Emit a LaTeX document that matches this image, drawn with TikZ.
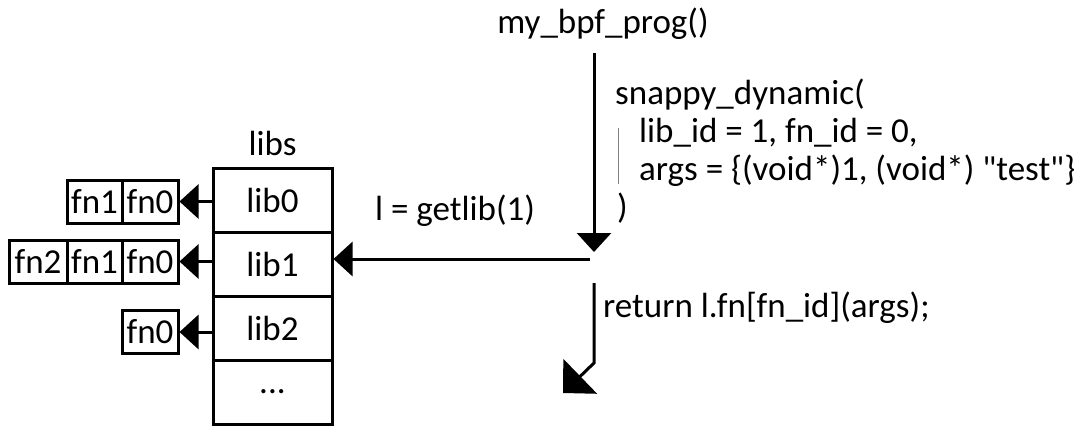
\documentclass[tikz,border=0pt]{standalone}
\usepackage{fontspec}
\setmainfont{Carlito}[Ligatures=TeXOff]
\usetikzlibrary{arrows.meta}
\begin{document}
\begin{tikzpicture}[x=1pt,y=-1pt,
  every node/.style={font=\fontsize{35}{42}\selectfont, inner sep=0pt},
  cell/.style={draw, line width=3pt, minimum width=119pt, minimum height=64pt},
  fnbox/.style={draw, line width=3pt, minimum width=56pt, minimum height=43pt},
  arr/.style={line width=3pt, -{Triangle[length=19pt,width=34pt]}},
  bigarr/.style={line width=3pt, -{Triangle[length=24pt,width=48pt]}},
  txt/.style={anchor=base west}
]
\useasboundingbox (0,0) rectangle (1088,426);
% libs column
\node[anchor=base] (libs) at (272.5,155) {libs};
\node[cell] (lib0) at (272.5,200) {lib0};
\node[cell] (lib1) at (272.5,264) {lib1};
\node[cell] (lib2) at (272.5,328) {lib2};
\node[cell] (lib3) at (272.5,392) {...};
% fn boxes
\node[fnbox] (f00) at (150,201.5) {fn0};
\node[fnbox, minimum width=55pt] (f01) at (94.5,201.5) {fn1};
\node[fnbox] (f10) at (150,261.5) {fn0};
\node[fnbox, minimum width=55pt] (f11) at (94.5,261.5) {fn1};
\node[fnbox, minimum width=58pt] (f12) at (38,261.5) {fn2};
\node[fnbox] (f20) at (150,332) {fn0};
\draw[arr] (lib0.west |- f00.east) -- (f00.east);
\draw[arr] (lib1.west |- f10.east) -- (f10.east);
\draw[arr] (lib2.west |- f20.east) -- (f20.east);
% program
\node[anchor=base] (prog) at (603,33) {my\_bpf\_prog()};
\coordinate (a0) at (594,53);
\coordinate (a1) at (594,252);
\draw[arr] (a0) -- (a1);
\node[txt] (s0) at (615,104) {snappy\_dynamic(};
\node[txt] (s1) at (639,142) {lib\_id = 1, fn\_id = 0,};
\node[txt] (s2) at (639,180) {args = \{(void*)1, (void*) "test"\}};
\node[txt] (s3) at (617,218) {)};
\draw[gray, line width=1pt] (618,128) -- (618,184);
% getlib
\node[txt] (gl) at (375,220) {l = getlib(1)};
\coordinate (h0) at (590,259);
\draw[arr] (h0) -- (lib1.east |- h0);
% return
\node[txt] (ret) at (603,317) {return l.fn[fn\_id](args);};
\coordinate (r0) at (594,283);
\coordinate (r1) at (594,363);
\coordinate (r2) at (563,393);
\draw[bigarr] (r0) -- (r1) -- (r2);
\end{tikzpicture}
\end{document}
